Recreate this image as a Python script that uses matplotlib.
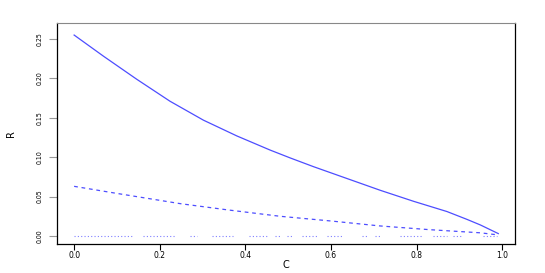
import numpy as np
import matplotlib
matplotlib.use("Agg")
import matplotlib.pyplot as plt

# curves
c_solid = [0.0, 0.069, 0.146, 0.224, 0.302, 0.380, 0.458, 0.505, 0.559,
           0.637, 0.715, 0.793, 0.871, 0.918, 0.949, 0.991]
r_solid = [0.255, 0.228, 0.199, 0.171, 0.147, 0.127, 0.109, 0.099, 0.088,
           0.073, 0.058, 0.044, 0.031, 0.021, 0.014, 0.003]

c_dashed = [0.0, 0.1, 0.248, 0.36, 0.481, 0.6, 0.715, 0.83, 0.949, 0.991]
r_dashed = [0.063, 0.054, 0.041, 0.033, 0.025, 0.019, 0.0127, 0.008, 0.004, 0.0013]

# stretches of C where the zero curve is drawn
zero_segments = [
    (0.0, 0.138), (0.161, 0.238), (0.271, 0.287), (0.322, 0.371),
    (0.409, 0.451), (0.470, 0.481), (0.498, 0.509), (0.533, 0.568),
    (0.591, 0.626), (0.673, 0.685), (0.703, 0.715), (0.762, 0.815),
    (0.839, 0.871), (0.886, 0.907), (0.956, 0.988),
]

x_ticks = [0.0, 0.2, 0.4, 0.6, 0.8, 1.0]
y_ticks = [0.00, 0.05, 0.10, 0.15, 0.20, 0.25]

line_col = "#4d4dff"

fig = plt.figure(figsize=(5.45, 2.73), dpi=100)
ax = fig.add_axes([57 / 545, 29 / 273, 458 / 545, 221 / 273])

ax.plot(c_solid, r_solid, color=line_col, lw=0.9)
ax.plot(c_dashed, r_dashed, color=line_col, lw=0.9, linestyle=(0, (3, 3)))
for a, b in zero_segments:
    ax.plot([a, b], [0, 0], color="#8080ff", lw=0.8, linestyle=(0, (1, 2)))

ax.set_xlim(-0.04, 1.03)
ax.set_ylim(-0.0102, 0.2703)

ax.set_xticks(x_ticks)
ax.set_xticklabels([f"{v:.1f}" for v in x_ticks], fontsize=5.5)
ax.set_yticks(y_ticks)
ax.set_yticklabels([f"{v:.2f}" for v in y_ticks], fontsize=5, rotation=90,
                   va="center", fontstretch="condensed")
ax.tick_params(axis="x", length=4, width=0.8, pad=1)
ax.tick_params(axis="y", length=6, width=0.8, color="#999999", pad=4)

for side in ["left", "right", "bottom"]:
    ax.spines[side].set_linewidth(0.9)
ax.spines["top"].set_color("#888888")

ax.set_xlabel("C", fontsize=7, labelpad=0)
ax.set_ylabel("R", fontsize=7, labelpad=15)

fig.savefig("out.png", dpi=100)
